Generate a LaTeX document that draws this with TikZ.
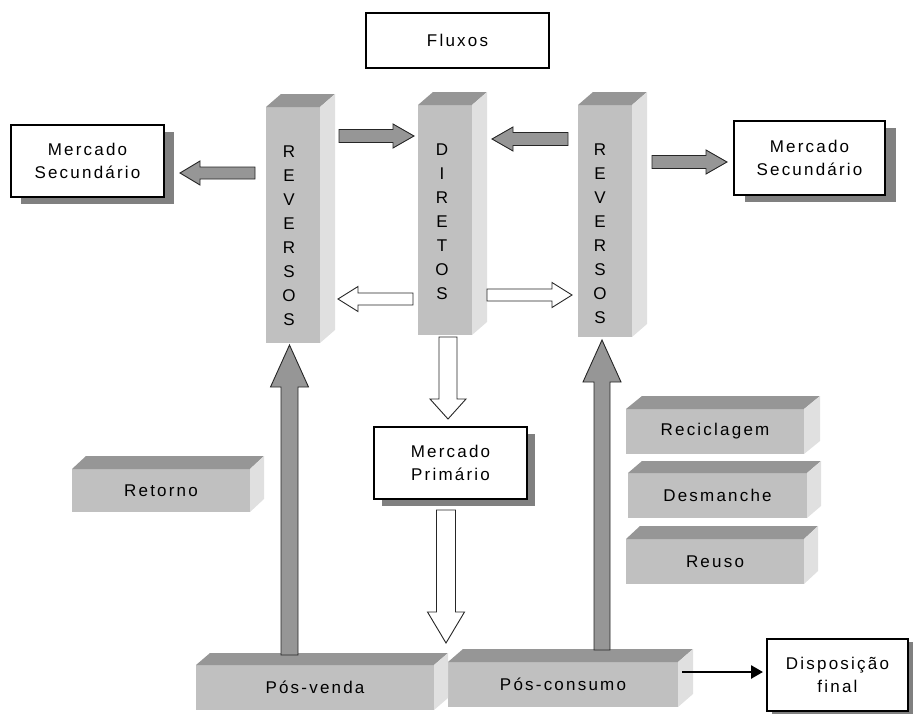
\documentclass[tikz,border=0pt]{standalone}
\usepackage{fontspec}
\setmainfont{Liberation Sans}[LetterSpace=13]
\usetikzlibrary{calc,arrows.meta,shadows}
\definecolor{frontc}{HTML}{C0C0C0}
\definecolor{topc}{HTML}{969696}
\definecolor{sidec}{HTML}{E0E0E0}
\definecolor{shadc}{HTML}{808080}
\definecolor{arrc}{HTML}{969696}
\newcommand{\cubefaces}[3]{%
  \fill[topface] (#1.north west) -- ++(#2,-#3) -- ([shift={(#2,-#3)}]#1.north east) -- (#1.north east) -- cycle;
  \fill[sideface] (#1.north east) -- ++(#2,-#3) -- ([shift={(#2,-#3)}]#1.south east) -- (#1.south east) -- cycle;
}
% #1 fill, #2 start, #3 end, #4 shaft half width, #5 head half width, #6 head length
\newcommand{\blockarrow}[6]{%
  \draw[arrowline, fill=#1] let \p1=#2, \p2=#3,
     \n1={veclen(\x2-\x1,\y2-\y1)}, \n2={atan2(\y2-\y1,\x2-\x1)} in
     [shift={(\p1)}, rotate=\n2]
     (0,#4) -- ({\n1-#6},#4) -- ({\n1-#6},#5) -- ({\n1},0) -- ({\n1-#6},-#5) -- ({\n1-#6},-#4) -- (0,-#4) -- cycle;
}
\tikzset{
  txt/.style={font=\fontsize{17}{23}\selectfont, align=center},
  wbox/.style={txt, draw=black, line width=1.1pt, fill=white, inner sep=0pt, outer sep=0pt},
  shbox/.style={wbox, drop shadow={shadow xshift=#1, shadow yshift=-7pt, fill=shadc, opacity=1}},
  face/.style={txt, fill=frontc, inner sep=0pt, outer sep=0pt},
  topface/.style={fill=topc},
  sideface/.style={fill=sidec},
  letters/.style={font=\fontsize{17}{24}\selectfont, align=center, inner sep=0pt},
  arrowline/.style={draw=black!85, line width=0.9pt, line join=miter},
}
\begin{document}
\begin{tikzpicture}[x=1pt,y=-1pt]
\useasboundingbox (0,0) rectangle (915,715);

% title
\node[wbox, minimum width=183pt, minimum height=55pt] (flux) at (457.5,40.5) {Fluxos};

% columns
\node[face, minimum width=54pt, minimum height=236pt] (rl) at (293,225) {};
\node[face, minimum width=54pt, minimum height=230pt] (dir) at (445,220) {};
\node[face, minimum width=54pt, minimum height=232pt] (rr) at (605,221) {};
\cubefaces{rl}{15}{13}
\cubefaces{dir}{15}{13}
\cubefaces{rr}{15}{13}
\node[letters] (rlt) at ($(rl.center)+(-4,11)$) {R\\E\\V\\E\\R\\S\\O\\S};
\node[letters] (dirt) at ($(dir.center)+(-3,1.5)$) {D\\I\\R\\E\\T\\O\\S};
\node[letters] (rrt) at ($(rr.center)+(-5,12.5)$) {R\\E\\V\\E\\R\\S\\O\\S};

% white boxes with shadows
\node[shbox=10pt, minimum width=153pt, minimum height=72pt] (msl) at (87.5,161) {Mercado\\Secundário};
\node[shbox=11pt, minimum width=151pt, minimum height=74pt] (msr) at (809.5,158) {Mercado\\Secundário};
\node[shbox=8pt, minimum width=153pt, minimum height=72pt] (mp) at (450.5,463) {Mercado\\Primário};
\node[wbox, drop shadow={shadow xshift=5pt, shadow yshift=-3pt, fill=shadc, opacity=1},
      minimum width=141pt, minimum height=72pt] (df) at (837.5,675) {Disposição\\final};

% 3D boxes
\node[face, minimum width=178pt, minimum height=43pt] (ret) at (161,490.5) {Retorno};
\node[face, minimum width=238pt, minimum height=45pt] (pv) at (315,687.5) {Pós-venda};
\node[face, minimum width=230pt, minimum height=45pt] (pc) at (563,684.5) {Pós-consumo};
\node[face, minimum width=178pt, minimum height=45pt] (rec) at (715,431.5) {Reciclagem};
\node[face, minimum width=179pt, minimum height=45pt] (des) at (717.5,495.5) {Desmanche};
\node[face, minimum width=178pt, minimum height=45pt] (reu) at (715,561.5) {Reuso};
\cubefaces{ret}{14}{13}
\cubefaces{pv}{14}{12}
\cubefaces{pc}{15}{13}
\cubefaces{rec}{16}{13}
\cubefaces{des}{14}{12}
\cubefaces{reu}{14}{13}

% gray block arrows
\blockarrow{arrc}{($(rl.west|-0,173)+(-11,0)$)}{($(msl.east|-0,173)+(16,0)$)}{6}{12}{20}
\blockarrow{arrc}{($(rl.east|-0,136)+(19,0)$)}{($(dir.west|-0,136)+(-4,0)$)}{6.5}{12}{21}
\blockarrow{arrc}{($(rr.west|-0,139)+(-10,0)$)}{($(dir.east|-0,139)+(20,0)$)}{6.5}{12}{21}
\blockarrow{arrc}{($(rr.east|-0,162)+(20,0)$)}{($(msr.west|-0,162)+(-7,0)$)}{6.5}{12}{21}
% white block arrows
\blockarrow{white}{($(dir.west|-0,299)+(-5,0)$)}{($(rl.east|-0,299)+(18,0)$)}{6}{12.5}{20}
\blockarrow{white}{($(dir.east|-0,295)+(15,0)$)}{($(rr.west|-0,295)+(-6,0)$)}{6}{12.5}{20}
\blockarrow{white}{($(dir.south)+(3,2)$)}{($(mp.north|-0,419)+(-2.5,0)$)}{9}{18}{20}
\coordinate (mpend) at (446,643);
\blockarrow{white}{($(mp.south|-0,510)+(-4.5,0)$)}{(mpend)}{9.5}{18.5}{31}
% upward gray arrows
\blockarrow{arrc}{($(pv.north|-0,655)+(-25.5,0)$)}{($(rl.south)+(-3.5,2)$)}{8.5}{19}{42}
\blockarrow{arrc}{($(pc.north|-0,650)+(39,0)$)}{($(rr.south)+(-3,3)$)}{8}{19}{42}
% thin arrow
\draw[line width=2.6pt, -{Triangle[length=12pt,width=13pt]}] ($(pc.east|-0,672)+(4,0)$) -- ($(df.west|-0,672)+(-4,0)$);
\end{tikzpicture}
\end{document}
